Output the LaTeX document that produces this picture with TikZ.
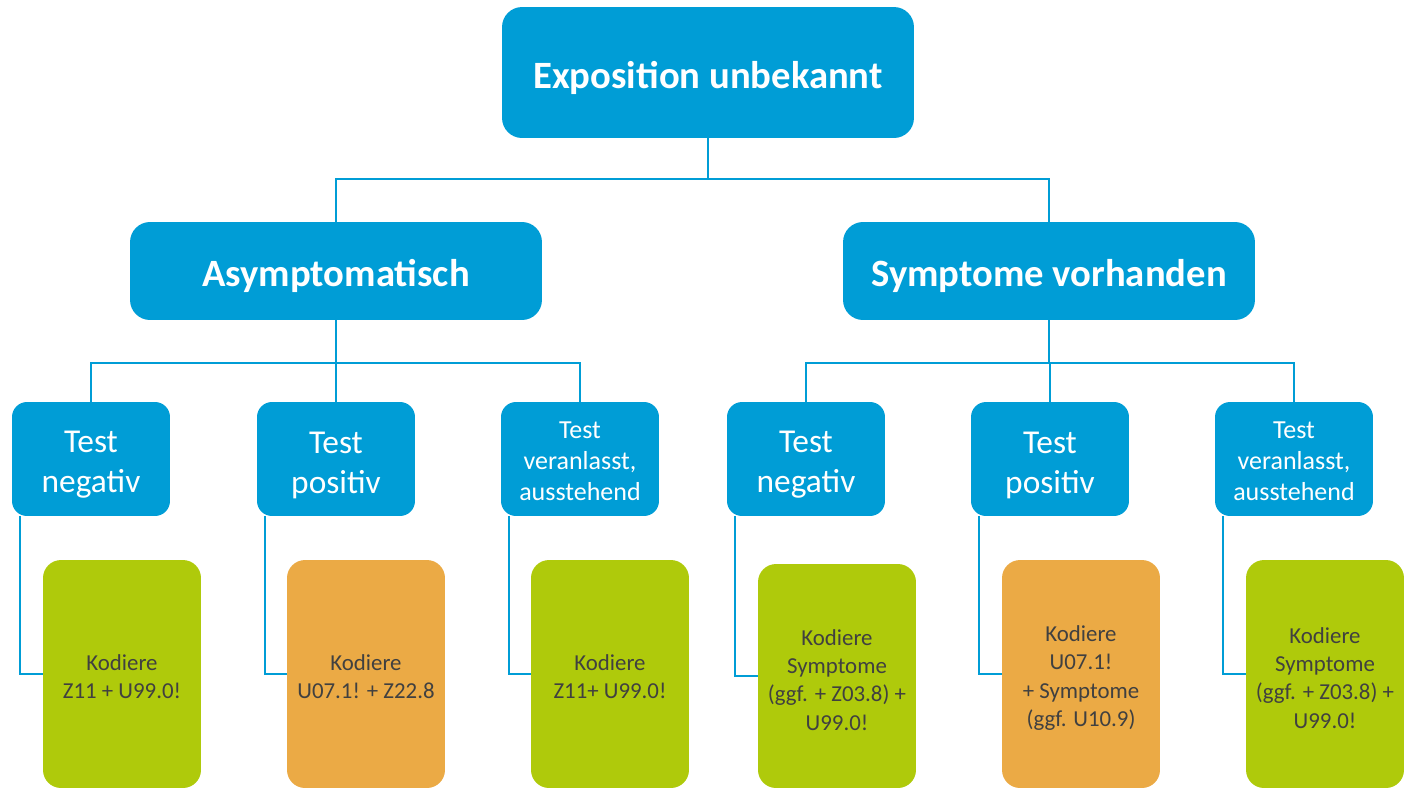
\documentclass[tikz,border=0pt]{standalone}
\usepackage{fontspec}
\setmainfont{Carlito}
\usepackage{xcolor}
\usepackage{tikz}
\definecolor{rkiblue}{RGB}{0,157,214}
\definecolor{rkigreen}{RGB}{175,202,11}
\definecolor{rkiorange}{RGB}{235,170,69}
\definecolor{rkitext}{RGB}{64,64,64}
% invisible strut that pushes the first line down a little
\newcommand{\toppad}[1]{\rule{0pt}{#1}}

\begin{document}
\begin{tikzpicture}[x=0.02cm, y=-0.02cm,
	rootbox/.style={
		rectangle, rounded corners=0.4cm, fill=rkiblue, text=white,
		font=\fontsize{22}{26}\selectfont\bfseries,
		text height=0.75cm, text depth=0.13cm,
		minimum width=8.24cm, minimum height=2.62cm
	},
	groupbox/.style={
		rootbox, minimum height=1.96cm
	},
	testbox/.style={
		rectangle, rounded corners=0.3cm, fill=rkiblue, text=white, align=center,
		font=\fontsize{19}{22.8}\selectfont,
		minimum width=3.16cm, minimum height=2.28cm, inner sep=0pt
	},
	testsmall/.style={
		testbox, font=\fontsize{14.8}{17.6}\selectfont
	},
	greenbox/.style={
		rectangle, rounded corners=0.36cm, fill=rkigreen, text=rkitext, align=center,
		font=\fontsize{13}{16}\selectfont,
		minimum width=3.16cm, minimum height=4.56cm, inner sep=0pt
	},
	orangebox/.style={
		greenbox, fill=rkiorange
	},
	link/.style={draw=rkiblue, line width=0.04cm}
	]
	\useasboundingbox (0,0) rectangle (1411,789);

	\node[rootbox] (root) at (708,72.5) {Exposition unbekannt};
	\node[groupbox] (asym) at (336,271) {Asymptomatisch};
	\node[groupbox] (symp) at (1049,271) {Symptome vorhanden};

	\node[testbox] (an) at (91,459) {\toppad{0.67cm}Test\\negativ};
	\node[testbox] (ap) at (336,459) {\toppad{0.67cm}Test\\positiv};
	\node[testsmall] (av) at (580,459) {\toppad{0.42cm}Test\\veranlasst,\\ausstehend};
	\node[testbox] (sn) at (806,459) {\toppad{0.67cm}Test\\negativ};
	\node[testbox] (sp) at (1050,459) {\toppad{0.67cm}Test\\positiv};
	\node[testsmall] (sv) at (1294,459) {\toppad{0.42cm}Test\\veranlasst,\\ausstehend};

	\node[greenbox] (kan) at (122,674) {\toppad{0.44cm}Kodiere\\Z11 + U99.0!};
	\node[orangebox] (kap) at (366,674) {\toppad{0.44cm}Kodiere\\U07.1! + Z22.8};
	\node[greenbox] (kav) at (610,674) {\toppad{0.44cm}Kodiere\\Z11+ U99.0!};
	\node[greenbox, minimum height=4.48cm] (ksn) at (837,676)
		{\toppad{0.48cm}Kodiere\\Symptome\\(ggf. + Z03.8) +\\U99.0!};
	\node[orangebox] (ksp) at (1081,674)
		{\toppad{0.48cm}Kodiere\\U07.1!\\+ Symptome\\(ggf. U10.9)};
	\node[greenbox] (ksv) at (1325,674)
		{\toppad{0.48cm}Kodiere\\Symptome\\(ggf. + Z03.8) +\\U99.0!};

	% tree
	\draw[link] (root.south) -- ++(0,41) -| (asym.north);
	\draw[link] (root.south) -- ++(0,41) -| (symp.north);
	\foreach \g/\k in {asym/an,asym/ap,asym/av,symp/sn,symp/sp,symp/sv} {
			\draw[link] (\g.south) -- ++(0,43) -| (\k.north);
		}

	% test -> code
	\foreach \t/\k in {an/kan,ap/kap,av/kav,sn/ksn,sp/ksp,sv/ksv} {
			\draw[link] ([xshift=0.17cm]\t.south west) |- (\k.west);
		}
\end{tikzpicture}
\end{document}
